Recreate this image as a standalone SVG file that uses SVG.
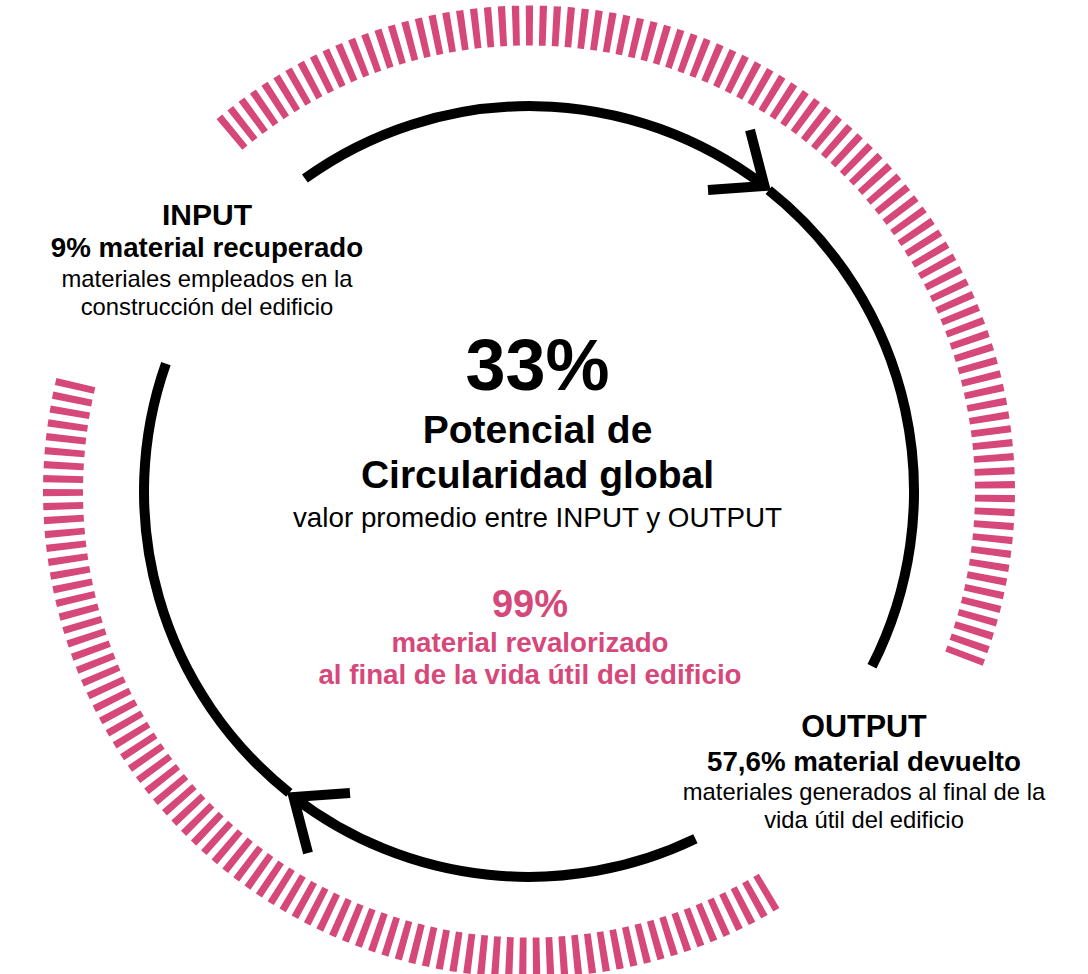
<svg xmlns="http://www.w3.org/2000/svg" width="1088" height="974" viewBox="0 0 1088 974">
<style>
.ticks{fill:none;stroke:#D6487A;stroke-width:40;stroke-dasharray:7 6.42}
.ring{fill:none;stroke:#000;stroke-width:10;stroke-linecap:butt}
.head{fill:none;stroke:#000;stroke-width:10;stroke-linecap:butt;stroke-linejoin:miter;stroke-miterlimit:10}
text{font-family:"Liberation Sans",Arial,sans-serif;text-anchor:middle;fill:#000}
.b{font-weight:bold}
.pink{fill:#D6487A}
</style>
<rect width="1088" height="974" fill="#fff"/>
<g id="ticks">
<path class="ticks" d="M 229.5 134.5 A 466 466 0 0 1 964.0 658.6"/>
<path class="ticks" d="M 75.9 382.7 A 466 466 0 0 0 769.1 890.9"/>
</g>
<g id="connectors">
<path class="ring" d="M 304.9 178.5 A 385 385 0 0 1 764.5 186"/>
<path class="ring" d="M 768.7 190.2 A 385 385 0 0 1 872.0 666.3"/>
<path class="ring" d="M 695.4 838.7 A 385 385 0 0 1 293.5 797"/>
<path class="ring" d="M 289.3 792.8 A 385 385 0 0 1 165.9 363.6"/>
<polyline class="head" points="750,130 764.5,186 708,190"/>
<polyline class="head" points="308,853 293.5,797 350,793"/>
</g>
<g id="input">
<text x="207" y="225" class="b" font-size="30">INPUT</text>
<text x="207" y="257" class="b" font-size="27.7">9% material recuperado</text>
<text x="207" y="287" font-size="23.8">materiales empleados en la</text>
<text x="207" y="315" font-size="23.8">construcción del edificio</text>
</g>
<g id="center">
<text x="537.5" y="390" class="b" font-size="72">33%</text>
<text x="537.5" y="443" class="b" font-size="39">Potencial de</text>
<text x="537.5" y="488" class="b" font-size="39">Circularidad global</text>
<text x="537.5" y="527" font-size="27.8">valor promedio entre INPUT y OUTPUT</text>
</g>
<g id="revalorizado">
<text x="530" y="617" class="b pink" font-size="38">99%</text>
<text x="530" y="652" class="b pink" font-size="27.7">material revalorizado</text>
<text x="530" y="684" class="b pink" font-size="27.7">al final de la vida útil del edificio</text>
</g>
<g id="output">
<text x="864" y="737" class="b" font-size="30.5">OUTPUT</text>
<text x="864" y="771" class="b" font-size="27.7">57,6% material devuelto</text>
<text x="864" y="800" font-size="23.8">materiales generados al final de la</text>
<text x="864" y="828" font-size="23.8">vida útil del edificio</text>
</g>
</svg>
